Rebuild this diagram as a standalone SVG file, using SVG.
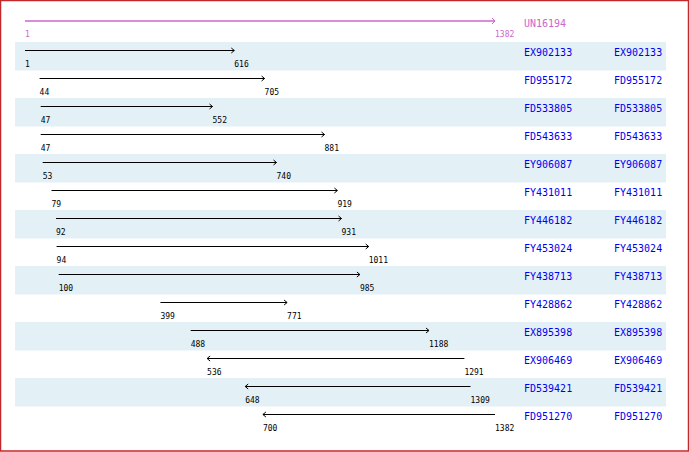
<svg xmlns="http://www.w3.org/2000/svg" width="690" height="452" viewBox="0 0 690 452">
<style>
.band{fill:#E3F0F5}
.ln{stroke:#000;stroke-width:1;fill:none}
.hd{stroke:#000;stroke-width:1;fill:none}
.num{font-family:"DejaVu Sans Mono","Liberation Mono",monospace;font-size:8px;fill:#000}
.lab{font-family:"DejaVu Sans Mono","Liberation Mono",monospace;font-size:10px;fill:#0000EE}
.mg{fill:#CC66CC}
</style>
<rect x="0" y="0" width="690" height="452" fill="#fff"/>
<rect x="0.5" y="0.5" width="688" height="450.5" fill="none" stroke="#C0282C" stroke-width="1.5"/>
<g id="bands">
<rect class="band" x="15" y="42" width="651" height="28.5"/>
<rect class="band" x="15" y="98" width="651" height="28.5"/>
<rect class="band" x="15" y="154" width="651" height="28.5"/>
<rect class="band" x="15" y="210" width="651" height="28.5"/>
<rect class="band" x="15" y="266" width="651" height="28.5"/>
<rect class="band" x="15" y="322" width="651" height="28.5"/>
<rect class="band" x="15" y="378" width="651" height="28.5"/>
</g>
<g id="ref">
<line x1="25" y1="21" x2="495" y2="21" stroke="#CC66CC" stroke-width="1.6"/>
<path d="M492,18 L495,21 L492,24" stroke="#CC66CC" stroke-width="1" fill="none"/>
<text class="num mg" x="25" y="36.5">1</text>
<text class="num mg" x="495" y="36.5">1382</text>
<text class="lab mg" x="524" y="26.5">UN16194</text>
</g>
<g id="connectors">
<line class="ln" x1="25" y1="50.5" x2="234.3" y2="50.5"/><path class="hd" d="M231.3,48 L234.3,50.5 L231.3,53"/>
<line class="ln" x1="39.6" y1="78.5" x2="264.6" y2="78.5"/><path class="hd" d="M261.6,76 L264.6,78.5 L261.6,81"/>
<line class="ln" x1="40.7" y1="106.5" x2="212.5" y2="106.5"/><path class="hd" d="M209.5,104 L212.5,106.5 L209.5,109"/>
<line class="ln" x1="40.7" y1="134.5" x2="324.5" y2="134.5"/><path class="hd" d="M321.5,132 L324.5,134.5 L321.5,137"/>
<line class="ln" x1="42.7" y1="162.5" x2="276.5" y2="162.5"/><path class="hd" d="M273.5,160 L276.5,162.5 L273.5,165"/>
<line class="ln" x1="51.5" y1="190.5" x2="337.4" y2="190.5"/><path class="hd" d="M334.4,188 L337.4,190.5 L334.4,193"/>
<line class="ln" x1="56" y1="218.5" x2="341.5" y2="218.5"/><path class="hd" d="M338.5,216 L341.5,218.5 L338.5,221"/>
<line class="ln" x1="56.6" y1="246.5" x2="368.7" y2="246.5"/><path class="hd" d="M365.7,244 L368.7,246.5 L365.7,249"/>
<line class="ln" x1="58.7" y1="274.5" x2="359.9" y2="274.5"/><path class="hd" d="M356.9,272 L359.9,274.5 L356.9,277"/>
<line class="ln" x1="160.4" y1="302.5" x2="287.1" y2="302.5"/><path class="hd" d="M284.1,300 L287.1,302.5 L284.1,305"/>
<line class="ln" x1="190.7" y1="330.5" x2="429" y2="330.5"/><path class="hd" d="M426,328 L429,330.5 L426,333"/>
<line class="ln" x1="207.1" y1="358.5" x2="464.4" y2="358.5"/><path class="hd" d="M210.1,356 L207.1,358.5 L210.1,361"/>
<line class="ln" x1="245.2" y1="386.5" x2="470.5" y2="386.5"/><path class="hd" d="M248.2,384 L245.2,386.5 L248.2,389"/>
<line class="ln" x1="262.9" y1="414.5" x2="495" y2="414.5"/><path class="hd" d="M265.9,412 L262.9,414.5 L265.9,417"/>
</g>
<g id="EX902133"><text class="num" x="25" y="66.5">1</text><text class="num" x="234.3" y="66.5">616</text><text class="lab" x="524" y="55.5">EX902133</text><text class="lab" x="614" y="55.5">EX902133</text></g>
<g id="FD955172"><text class="num" x="39.6" y="94.5">44</text><text class="num" x="264.6" y="94.5">705</text><text class="lab" x="524" y="83.5">FD955172</text><text class="lab" x="614" y="83.5">FD955172</text></g>
<g id="FD533805"><text class="num" x="40.7" y="122.5">47</text><text class="num" x="212.5" y="122.5">552</text><text class="lab" x="524" y="111.5">FD533805</text><text class="lab" x="614" y="111.5">FD533805</text></g>
<g id="FD543633"><text class="num" x="40.7" y="150.5">47</text><text class="num" x="324.5" y="150.5">881</text><text class="lab" x="524" y="139.5">FD543633</text><text class="lab" x="614" y="139.5">FD543633</text></g>
<g id="EY906087"><text class="num" x="42.7" y="178.5">53</text><text class="num" x="276.5" y="178.5">740</text><text class="lab" x="524" y="167.5">EY906087</text><text class="lab" x="614" y="167.5">EY906087</text></g>
<g id="FY431011"><text class="num" x="51.5" y="206.5">79</text><text class="num" x="337.4" y="206.5">919</text><text class="lab" x="524" y="195.5">FY431011</text><text class="lab" x="614" y="195.5">FY431011</text></g>
<g id="FY446182"><text class="num" x="56" y="234.5">92</text><text class="num" x="341.5" y="234.5">931</text><text class="lab" x="524" y="223.5">FY446182</text><text class="lab" x="614" y="223.5">FY446182</text></g>
<g id="FY453024"><text class="num" x="56.6" y="262.5">94</text><text class="num" x="368.7" y="262.5">1011</text><text class="lab" x="524" y="251.5">FY453024</text><text class="lab" x="614" y="251.5">FY453024</text></g>
<g id="FY438713"><text class="num" x="58.7" y="290.5">100</text><text class="num" x="359.9" y="290.5">985</text><text class="lab" x="524" y="279.5">FY438713</text><text class="lab" x="614" y="279.5">FY438713</text></g>
<g id="FY428862"><text class="num" x="160.4" y="318.5">399</text><text class="num" x="287.1" y="318.5">771</text><text class="lab" x="524" y="307.5">FY428862</text><text class="lab" x="614" y="307.5">FY428862</text></g>
<g id="EX895398"><text class="num" x="190.7" y="346.5">488</text><text class="num" x="429" y="346.5">1188</text><text class="lab" x="524" y="335.5">EX895398</text><text class="lab" x="614" y="335.5">EX895398</text></g>
<g id="EX906469"><text class="num" x="207.1" y="374.5">536</text><text class="num" x="464.4" y="374.5">1291</text><text class="lab" x="524" y="363.5">EX906469</text><text class="lab" x="614" y="363.5">EX906469</text></g>
<g id="FD539421"><text class="num" x="245.2" y="402.5">648</text><text class="num" x="470.5" y="402.5">1309</text><text class="lab" x="524" y="391.5">FD539421</text><text class="lab" x="614" y="391.5">FD539421</text></g>
<g id="FD951270"><text class="num" x="262.9" y="430.5">700</text><text class="num" x="495" y="430.5">1382</text><text class="lab" x="524" y="419.5">FD951270</text><text class="lab" x="614" y="419.5">FD951270</text></g>
</svg>
